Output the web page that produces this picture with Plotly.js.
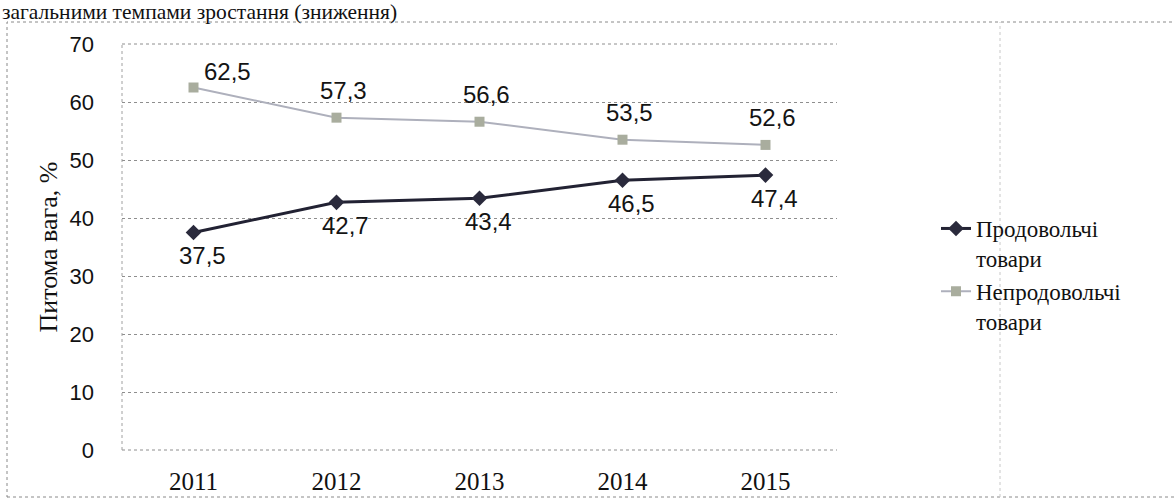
<!DOCTYPE html>
<html>
<head>
<meta charset="utf-8">
<script src="https://cdn.plot.ly/plotly-3.0.1.min.js"></script>
<style>html,body{margin:0;padding:0;background:#fff;}#chart{width:1174px;height:499px;}</style>
</head>
<body>
<div id="chart"></div>
<script>
const years = ['2011', '2012', '2013', '2014', '2015'];
const foodShare = [37.5, 42.7, 43.4, 46.5, 47.4];
const nonFoodShare = [62.5, 57.3, 56.6, 53.5, 52.6];
const seriesNames = ['Продовольчі<br>товари', 'Непродовольчі<br>товари'];
const yTitle = 'Питома вага, %';
const topText = 'загальними темпами зростання (зниження)';

const fmt = v => v.toFixed(1).replace('.', ',');
const sans = 'Liberation Sans, Arial, sans-serif';
const serif = 'Liberation Serif, Times New Roman, serif';

const traces = [
  {
    x: years, y: foodShare, name: seriesNames[0], type: 'scatter', mode: 'lines+markers',
    line: {color: '#222233', width: 3},
    marker: {symbol: 'diamond', size: 12, color: '#2a2a3c'},
    cliponaxis: false
  },
  {
    x: years, y: nonFoodShare, name: seriesNames[1], type: 'scatter', mode: 'lines+markers',
    line: {color: '#aeb0bc', width: 2},
    marker: {symbol: 'square', size: 10, color: '#a9ad9e'},
    cliponaxis: false
  }
];

const labelFont = {family: sans, size: 24, color: '#141414'};
const annotations = [];
years.forEach((yr, i) => {
  annotations.push({xref: 'x', yref: 'y', x: i, y: foodShare[i], text: fmt(foodShare[i]), showarrow: false,
    xanchor: 'center', yanchor: 'middle', xshift: 9, yshift: -23, font: labelFont});
  annotations.push({xref: 'x', yref: 'y', x: i, y: nonFoodShare[i], text: fmt(nonFoodShare[i]), showarrow: false,
    xanchor: 'center', yanchor: 'middle', xshift: i === 0 ? 34 : 7, yshift: i === 0 ? 16 : 27, font: labelFont});
});

const px = p => (p - 122) / 715;
const py = p => (450 - p) / 406;

annotations.push({text: topText, xref: 'paper', yref: 'paper', x: px(0), y: py(12), xanchor: 'left', yanchor: 'middle',
  showarrow: false, font: {family: serif, size: 21.5, color: '#111'}});

const layout = {
  width: 1174, height: 499,
  margin: {l: 122, r: 337, t: 44, b: 49},
  paper_bgcolor: '#fff', plot_bgcolor: '#fff',
  showlegend: true,
  legend: {x: px(936), y: py(207), xanchor: 'left', yanchor: 'top', valign: 'top',
    font: {family: serif, size: 23, color: '#111'}, tracegroupgap: 0, bgcolor: 'rgba(0,0,0,0)'},
  xaxis: {
    type: 'category', range: [-0.5, 4.5], showgrid: false, zeroline: false, showline: false,
    ticks: '', tickfont: {family: serif, size: 25, color: '#111'}, ticklabelstandoff: 14
  },
  yaxis: {
    range: [0, 70], dtick: 10, showgrid: true, gridcolor: '#8e8e8e', griddash: 'dot', gridwidth: 1,
    zeroline: false, showline: false,
    ticks: '', tickfont: {family: sans, size: 22, color: '#111'}, ticklabelstandoff: 27,
    title: {text: yTitle, font: {family: serif, size: 26, color: '#111'}, standoff: 4}
  },
  shapes: [
    {type: 'line', xref: 'paper', yref: 'paper', x0: 0, x1: 1, y0: 0, y1: 0, line: {color: '#8e8e8e', width: 1, dash: 'dot'}},
    {type: 'line', xref: 'paper', yref: 'paper', x0: 0, x1: 1, y0: 1, y1: 1, line: {color: '#8e8e8e', width: 1, dash: 'dot'}},
    {type: 'line', xref: 'paper', yref: 'paper', x0: 0, x1: 0, y0: 0, y1: 1, line: {color: '#a0a0a0', width: 1, dash: 'dot'}},
    {type: 'rect', xref: 'paper', yref: 'paper', x0: px(7), x1: px(1180), y0: py(497), y1: py(22), line: {color: '#8a8a8a', width: 1, dash: 'dot'}},
    {type: 'line', xref: 'paper', yref: 'paper', x0: px(1000), x1: px(1000), y0: py(497), y1: py(22), line: {color: '#c8c8c8', width: 1, dash: 'dot'}}
  ],
  annotations: annotations
};

Plotly.newPlot('chart', traces, layout, {displayModeBar: false});
</script>
</body>
</html>
